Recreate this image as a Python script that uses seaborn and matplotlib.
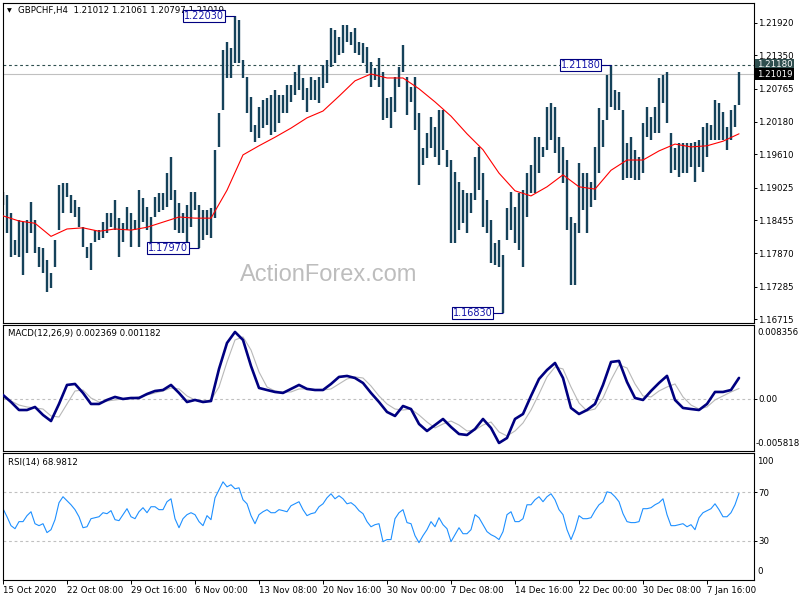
import numpy as np
import matplotlib
matplotlib.use("Agg")
import matplotlib.pyplot as plt
import seaborn as sns

# GBPCHF H4 (every 2nd bar)
highs = [
    1.1895, 1.1890, 1.1858, 1.1811, 1.1846, 1.1842, 1.1846, 1.1877, 1.1846, 1.1798,
    1.1797, 1.1775, 1.1753, 1.1811, 1.1907, 1.1910, 1.1910, 1.1890, 1.1881, 1.1868,
    1.1833, 1.1798, 1.1805, 1.1828, 1.1828, 1.1842, 1.1858, 1.1858, 1.1881, 1.1849,
    1.1840, 1.1868, 1.1858, 1.1846, 1.1898, 1.1884, 1.1868, 1.1851, 1.1886, 1.1893,
    1.1893, 1.1928, 1.1956, 1.1898, 1.1875, 1.1858, 1.1872, 1.1895, 1.1895, 1.1872,
    1.1863, 1.1863, 1.1867, 1.1969, 1.2033, 1.2144, 1.2158, 1.2147, 1.2203, 1.2197,
    1.2127, 1.2097, 1.2061, 1.2012, 1.2044, 1.2056, 1.2060, 1.2065, 1.2074, 1.2065,
    1.2065, 1.2083, 1.2083, 1.2105, 1.2118, 1.2095, 1.2077, 1.2097, 1.2091, 1.2097,
    1.2118, 1.2127, 1.2183, 1.2179, 1.2167, 1.2188, 1.2188, 1.2176, 1.2183, 1.2158,
    1.2156, 1.2149, 1.2123, 1.2112, 1.2130, 1.2105, 1.2060, 1.2061, 1.2097, 1.2114,
    1.2153, 1.2097, 1.2079, 1.2097, 1.2033, 1.1972, 1.1998, 1.2026, 1.2009, 1.2039,
    1.2039, 1.1969, 1.1951, 1.1930, 1.1912, 1.1898, 1.1893, 1.1893, 1.1956, 1.1974,
    1.1928, 1.1881, 1.1846, 1.1805, 1.1811, 1.1784, 1.1867, 1.1895, 1.1868, 1.1893,
    1.1898, 1.1928, 1.1942, 1.1991, 1.1991, 1.1974, 1.2044, 1.2051, 1.2044, 1.1991,
    1.1974, 1.1951, 1.1851, 1.1840, 1.1946, 1.1928, 1.1928, 1.1912, 1.1974, 1.2042,
    1.2021, 1.2100, 1.2118, 1.2074, 1.2070, 1.2039, 1.1981, 1.1991, 1.1969, 1.1956,
    1.2016, 1.2044, 1.2026, 1.2044, 1.2095, 1.2100, 1.2105, 1.1998, 1.1972, 1.1981,
    1.1981, 1.1981, 1.1981, 1.1982, 1.1986, 1.2009, 1.2016, 1.2012, 1.2056, 1.2051,
    1.2035, 1.2009, 1.2039, 1.2047, 1.2106,
]
lows = [
    1.1872, 1.1823, 1.1781, 1.1784, 1.1781, 1.1749, 1.1788, 1.1823, 1.1788, 1.1763,
    1.1753, 1.1719, 1.1726, 1.1763, 1.1828, 1.1858, 1.1886, 1.1858, 1.1851, 1.1833,
    1.1798, 1.1779, 1.1758, 1.1807, 1.1811, 1.1814, 1.1823, 1.1833, 1.1828, 1.1781,
    1.1807, 1.1828, 1.1798, 1.1828, 1.1798, 1.1842, 1.1828, 1.1807, 1.1851, 1.1860,
    1.1863, 1.1868, 1.1881, 1.1828, 1.1823, 1.1823, 1.1799, 1.1833, 1.1863, 1.1797,
    1.1811, 1.1819, 1.1814, 1.1849, 1.1974, 1.2039, 1.2095, 1.2095, 1.2121, 1.2121,
    1.2095, 1.2033, 1.2000, 1.1982, 1.1989, 1.2007, 1.2012, 1.1995, 1.2000, 1.2016,
    1.2033, 1.2033, 1.2053, 1.2065, 1.2074, 1.2056, 1.2035, 1.2056, 1.2056, 1.2051,
    1.2077, 1.2086, 1.2114, 1.2121, 1.2135, 1.2139, 1.2158, 1.2153, 1.2139, 1.2135,
    1.2121, 1.2104, 1.2079, 1.2091, 1.2079, 1.2021, 1.2025, 1.2007, 1.2035, 1.2079,
    1.2105, 1.2030, 1.2053, 1.2004, 1.1907, 1.1942, 1.1954, 1.1972, 1.1956, 1.1942,
    1.1969, 1.1939, 1.1805, 1.1805, 1.1828, 1.1840, 1.1823, 1.1858, 1.1881, 1.1898,
    1.1833, 1.1823, 1.1770, 1.1767, 1.1763, 1.1683, 1.1811, 1.1828, 1.1805, 1.1793,
    1.1763, 1.1851, 1.1893, 1.1893, 1.1928, 1.1956, 1.1969, 1.1986, 1.1963, 1.1928,
    1.1910, 1.1828, 1.1732, 1.1732, 1.1823, 1.1863, 1.1823, 1.1868, 1.1881, 1.1928,
    1.1974, 1.2021, 1.2044, 1.2039, 1.2039, 1.1916, 1.1919, 1.1919, 1.1916, 1.1916,
    1.1928, 1.1991, 1.1986, 1.1998, 1.1998, 1.2051, 1.2016, 1.1928, 1.1933, 1.1921,
    1.1928, 1.1928, 1.1939, 1.1912, 1.1939, 1.1930, 1.1956, 1.1986, 1.1986, 1.1986,
    1.1986, 1.1969, 1.1986, 1.2009, 1.2047,
]

# red moving average, every 4th reading
ma_vals = [
    1.1853, 1.1844, 1.1840, 1.1817, 1.1830, 1.1832, 1.1826, 1.1830, 1.1828, 1.1833,
    1.1842, 1.1851, 1.1849, 1.1849, 1.1898, 1.1960, 1.1976, 1.1991, 1.2007, 1.2025,
    1.2037, 1.2063, 1.2090, 1.2102, 1.2095, 1.2095, 1.2076, 1.2053, 1.2028, 1.1997,
    1.1969, 1.1928, 1.1897, 1.1888, 1.1904, 1.1925, 1.1904, 1.1900, 1.1933, 1.1951,
    1.1951, 1.1967, 1.1979, 1.1974, 1.1976, 1.1984, 1.1997,
]

# MACD(12,26,9), every 2nd reading
macd_main = [
    0.00045, -0.00034, -0.00124, -0.00124, -0.00090, -0.00180, -0.00248, -0.00056, 0.00158, 0.00169,
    0.00068, -0.00056, -0.00056, -0.00011, 0.00023, 0.00000, 0.00011, 0.00011, 0.00056, 0.00090,
    0.00101, 0.00158, 0.00068, -0.00034, -0.00011, -0.00034, -0.00023, 0.00338, 0.00630, 0.00754,
    0.00664, 0.00371, 0.00124, 0.00101, 0.00079, 0.00068, 0.00113, 0.00158, 0.00113, 0.00101,
    0.00101, 0.00169, 0.00248, 0.00259, 0.00236, 0.00180, 0.00068, -0.00034, -0.00146, -0.00191,
    -0.00079, -0.00113, -0.00281, -0.00360, -0.00293, -0.00225, -0.00315, -0.00394, -0.00405, -0.00338,
    -0.00225, -0.00326, -0.00495, -0.00439, -0.00225, -0.00169, 0.00034, 0.00225, 0.00326, 0.00405,
    0.00236, -0.00101, -0.00169, -0.00124, -0.00056, 0.00158, 0.00416, 0.00428, 0.00191, 0.00011,
    -0.00011, 0.00090, 0.00180, 0.00260, -0.00011, -0.00101, -0.00113, -0.00124, -0.00056, 0.00079,
    0.00079, 0.00101, 0.00237,
]
macd_signal = [
    0.00011, -0.00023, -0.00068, -0.00090, -0.00101, -0.00113, -0.00191, -0.00203, -0.00056, 0.00090,
    0.00101, 0.00011, -0.00034, -0.00023, -0.00011, 0.00000, 0.00011, 0.00023, 0.00045, 0.00068,
    0.00090, 0.00124, 0.00113, 0.00034, -0.00011, -0.00023, -0.00011, 0.00135, 0.00416, 0.00664,
    0.00698, 0.00551, 0.00304, 0.00135, 0.00090, 0.00079, 0.00079, 0.00113, 0.00113, 0.00101,
    0.00101, 0.00113, 0.00169, 0.00225, 0.00248, 0.00236, 0.00146, 0.00034, -0.00056, -0.00113,
    -0.00124, -0.00113, -0.00180, -0.00259, -0.00326, -0.00281, -0.00248, -0.00293, -0.00360, -0.00349,
    -0.00293, -0.00259, -0.00371, -0.00416, -0.00360, -0.00270, -0.00124, 0.00056, 0.00248, 0.00360,
    0.00338, 0.00135, -0.00045, -0.00135, -0.00113, 0.00011, 0.00214, 0.00383, 0.00349, 0.00169,
    0.00034, 0.00023, 0.00090, 0.00135, 0.00169, 0.00023, -0.00068, -0.00113, -0.00090, -0.00011,
    0.00034, 0.00079, 0.00118,
]

# RSI(14), one reading per bar drawn
rsi_vals = [
    56.4, 49.8, 42.5, 40.0, 45.8, 45.8, 50.7, 53.9, 44.1, 42.5,
    44.1, 36.8, 39.2, 47.4, 61.3, 66.2, 62.9, 59.6, 55.6, 49.8,
    40.8, 41.6, 48.2, 49.0, 49.8, 53.1, 52.3, 54.8, 47.4, 46.6,
    51.5, 56.4, 49.8, 48.2, 53.9, 57.2, 53.1, 58.0, 58.0, 55.6,
    55.6, 62.1, 64.5, 48.2, 40.8, 48.2, 51.5, 53.1, 51.5, 45.8,
    42.5, 50.7, 47.4, 65.3, 71.9, 78.4, 74.3, 76.0, 72.7, 73.5,
    63.7, 60.4, 50.7, 44.1, 51.5, 53.9, 55.6, 53.1, 53.1, 55.6,
    54.8, 53.9, 58.8, 60.4, 62.1, 55.6, 50.7, 52.3, 53.1, 58.0,
    60.4, 65.3, 68.6, 64.5, 67.0, 64.5, 60.4, 61.3, 58.8, 54.8,
    52.3, 45.8, 41.6, 43.3, 44.1, 29.4, 31.1, 31.1, 48.2, 53.1,
    55.6, 45.0, 44.1, 34.3, 28.6, 34.3, 39.2, 45.8, 41.6, 49.0,
    43.3, 40.0, 29.4, 35.1, 40.8, 35.9, 35.9, 39.2, 51.5, 49.0,
    43.3, 37.6, 35.1, 33.5, 31.1, 37.6, 51.5, 53.9, 45.8, 45.8,
    48.2, 59.6, 59.6, 63.7, 66.2, 62.1, 66.2, 68.6, 63.7, 55.6,
    51.5, 39.2, 31.1, 39.2, 50.7, 48.2, 48.2, 49.0, 54.8, 59.6,
    62.1, 70.2, 69.4, 66.2, 62.1, 52.3, 45.8, 45.0, 45.0, 45.8,
    56.4, 56.4, 57.2, 59.6, 61.3, 64.5, 51.5, 42.5, 42.5, 43.3,
    44.1, 41.6, 43.3, 39.2, 49.0, 53.1, 54.8, 56.4, 60.4, 55.6,
    49.8, 49.8, 53.1, 59.6, 69.0,
]

date_labels = ["15 Oct 2020", "22 Oct 08:00", "29 Oct 16:00", "6 Nov 00:00",
               "13 Nov 08:00", "20 Nov 16:00", "30 Nov 00:00", "7 Dec 08:00",
               "14 Dec 16:00", "22 Dec 00:00", "30 Dec 08:00", "7 Jan 16:00"]
price_ticks = [1.21920, 1.21350, 1.20765, 1.20180, 1.19610,
               1.19025, 1.18455, 1.17870, 1.17285, 1.16715]
# (bar, price) of the boxed highs/lows
marks = [(58, 1.22030), (152, 1.21180), (49, 1.17970), (125, 1.16830)]
level_price = 1.21180
last_price = 1.21019

bar_idx = np.arange(len(highs))
ma_idx = bar_idx[::4]
macd_idx = bar_idx[::2]

sns.set_theme(style="white")
plt.rcParams["font.family"] = ["DejaVu Sans"]

BAR = "#15425a"
FS = 6.2

fig = plt.figure(figsize=(8, 6), dpi=100)
fig.patch.set_facecolor("white")


def px_axes(left, top, right, bottom):
    return fig.add_axes([left / 800, 1 - bottom / 600,
                         (right - left) / 800, (bottom - top) / 600])


ax = px_axes(2.5, 2.7, 754, 322.7)
ax_macd = px_axes(2.5, 324.7, 754, 450.7)
ax_rsi = px_axes(2.5, 453, 754, 579.5)

for a in (ax, ax_macd, ax_rsi):
    a.set_facecolor("white")
    a.set_xlim(-0.125, 187.75)
    for s in a.spines.values():
        s.set_visible(True)
        s.set_color("black")
        s.set_linewidth(0.8)
    a.yaxis.tick_right()
    a.tick_params(axis="y", right=True, left=False, labelright=True, labelleft=False,
                  direction="out", length=2.2, width=0.7, pad=0.8,
                  labelsize=FS, colors="black")
    a.grid(False)

# ---- price panel
ax.set_ylim(1.16655, 1.22271)
ax.text(0.4345, 0.149, "ActionForex.com", transform=ax.transAxes, ha="center",
        va="center", fontsize=17, color="#bdbdbd", family="Liberation Sans", zorder=0.5)
ax.axhline(last_price, color="#c0c0c0", lw=0.8, zorder=1)
ax.axhline(level_price, color="#2f4f4f", lw=0.8, dashes=(2.5, 2.5), zorder=1)
ax.vlines(bar_idx, lows, highs, color=BAR, linewidth=1.7, zorder=2)
sns.lineplot(x=ma_idx, y=ma_vals, ax=ax, color="red", linewidth=0.8, legend=False, zorder=3)

for bar, price in marks:
    ax.hlines(price, bar - 2.4, bar, color="#000080", lw=0.8, zorder=4)
    ax.annotate(f"{price:.5f}", xy=(bar - 2.4, price), xytext=(-1, 0),
                textcoords="offset pixels", ha="right", va="center", fontsize=7,
                color="#1414a8", zorder=5,
                bbox=dict(boxstyle="square,pad=0.1", fc="white", ec="#000080", lw=0.8))

ax.set_xticks([])
ax.set_yticks(price_ticks)
ax.set_yticklabels([f"{p:.5f}" for p in price_ticks])
ax.set_xlabel("")
ax.set_ylabel("")

for price, bg in [(level_price, "#2f4f4f"), (last_price, "black")]:
    ax.annotate(f"{price:.5f}", xy=(1, price), xycoords=("axes fraction", "data"),
                xytext=(3, 0), textcoords="offset pixels", ha="left", va="center",
                fontsize=FS, color="white", annotation_clip=False, zorder=6,
                bbox=dict(boxstyle="square,pad=0.2", fc=bg, ec="none"))

ax.annotate("\u25bc", xy=(0, 1), xycoords="axes fraction", xytext=(4.5, -8),
            textcoords="offset pixels", ha="left", va="center", fontsize=4.5, color="black")
ax.annotate("GBPCHF,H4  1.21012 1.21061 1.20797 1.21019", xy=(0, 1),
            xycoords="axes fraction", xytext=(15.5, -7.5), textcoords="offset pixels",
            ha="left", va="center", fontsize=FS, color="black")

# ---- MACD panel
ax_macd.set_ylim(-0.005818, 0.008356)
ax_macd.axhline(0, color="#c0c0c0", lw=0.8, dashes=(2.5, 2.5), zorder=1)
sns.lineplot(x=macd_idx, y=macd_signal, ax=ax_macd, color="#b8b8b8", linewidth=0.8,
             legend=False, zorder=2)
sns.lineplot(x=macd_idx, y=macd_main, ax=ax_macd, color="#000080", linewidth=1.9,
             legend=False, zorder=3)
ax_macd.set_xticks([])
ax_macd.set_yticks([0])
ax_macd.set_yticklabels(["0.00"])
ax_macd.set_xlabel("")
ax_macd.set_ylabel("")
ax_macd.annotate("MACD(12,26,9) 0.002369 0.001182", xy=(0, 1), xycoords="axes fraction",
                 xytext=(5, -8.5), textcoords="offset pixels", ha="left", va="center",
                 fontsize=FS, color="black")
ax_macd.annotate("0.008356", xy=(1, 1), xycoords="axes fraction", xytext=(3, -8),
                 textcoords="offset pixels", ha="left", va="center", fontsize=FS,
                 color="black", annotation_clip=False)
ax_macd.annotate("-0.005818", xy=(1, 0), xycoords="axes fraction", xytext=(2, 7),
                 textcoords="offset pixels", ha="left", va="center", fontsize=FS,
                 color="black", annotation_clip=False)

# ---- RSI panel
ax_rsi.set_ylim(-1.6, 102)
for lvl in (70, 30):
    ax_rsi.axhline(lvl, color="#c0c0c0", lw=0.8, dashes=(2.5, 2.5), zorder=1)
sns.lineplot(x=bar_idx, y=rsi_vals, ax=ax_rsi, color="#1e90ff", linewidth=0.8,
             legend=False, zorder=2)
ax_rsi.set_yticks([70, 30])
ax_rsi.set_yticklabels(["70", "30"])
ax_rsi.set_xticks(bar_idx[::16])
ax_rsi.set_xticklabels(date_labels)
ax_rsi.tick_params(axis="x", bottom=True, direction="out", length=3, width=0.7,
                   pad=1.5, labelsize=FS, colors="black")
for lab in ax_rsi.get_xticklabels():
    lab.set_horizontalalignment("left")
ax_rsi.set_xlabel("")
ax_rsi.set_ylabel("")
ax_rsi.annotate("RSI(14) 68.9812", xy=(0, 1), xycoords="axes fraction",
                xytext=(5, -9), textcoords="offset pixels", ha="left", va="center",
                fontsize=FS, color="black")
ax_rsi.annotate("100", xy=(1, 1), xycoords="axes fraction", xytext=(3, -9),
                textcoords="offset pixels", ha="left", va="center", fontsize=FS,
                color="black", annotation_clip=False)
ax_rsi.annotate("0", xy=(1, 0), xycoords="axes fraction", xytext=(3, 8),
                textcoords="offset pixels", ha="left", va="center", fontsize=FS,
                color="black", annotation_clip=False)

fig.savefig("out.png", dpi=100, facecolor="white")
